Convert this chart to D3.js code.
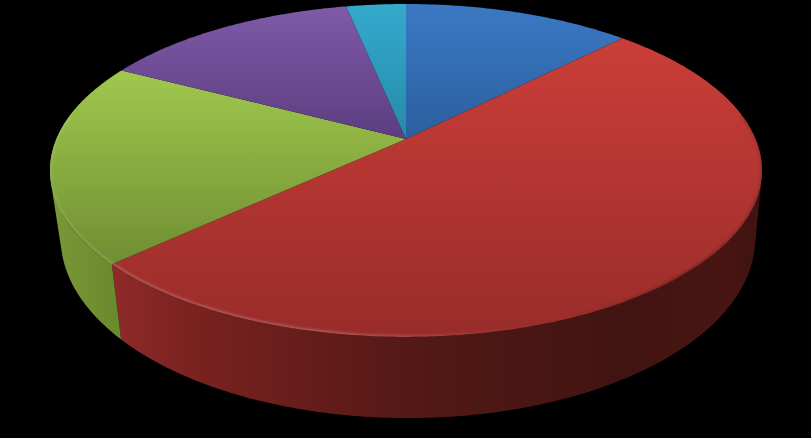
<!DOCTYPE html>
<html>
<head>
<meta charset="utf-8">
<script src="https://cdn.jsdelivr.net/npm/d3@7"></script>
<style>
  html, body { margin: 0; padding: 0; background: #000; overflow: hidden; }
  svg { display: block; }
</style>
</head>
<body>
<svg id="chart" width="811" height="438"></svg>
<script>
const WIDTH = 811, HEIGHT = 438;

// share of each slice, clockwise from twelve o'clock
const sliceValues = [12.4, 50.7, 19.6, 14.05, 3.25];

const topLight = ['#3b79c4', '#cb3e38', '#a0c84e', '#7f5aa8', '#34aacd'];
const topDark = ['#2b5f9f', '#982c2a', '#6f8e32', '#5c3d80', '#258aaa'];
const wallStops = [
    [[0, '#2b5f9f'], [1, '#2b5f9f']],
    [[0.09, '#8e2a2a'], [0.2, '#7a2220'], [0.5, '#541916'], [0.8, '#411411'], [0.95, '#481512'], [1, '#3d1310']],
    [[0, '#7a9a38'], [0.09, '#6a8a2e']],
    [[0, '#5c3d80'], [1, '#5c3d80']],
    [[0, '#258aaa'], [1, '#258aaa']]
];

// perspective of the disc: the rim of the top face and of the bottom face
const PERSPECTIVE = 0.189;
const topFace = { cx: 406, cy: 139, a: 349.6, b: 160.5 };
const bottomFace = { cx: 408, cy: 204, a: 341, b: 173.6 };
const WALL_STEP = 0.012;

function project(face, angle) {
    const u = Math.sin(angle), v = Math.cos(angle);
    const w = 1 + PERSPECTIVE * v;
    return [face.cx + face.a * u / w, face.cy - face.b * v / w];
}

function arcPoints(face, start, end) {
    const count = Math.max(2, Math.ceil((end - start) / 0.01));
    return d3.range(count + 1).map(i => project(face, start + (end - start) * i / count));
}

const svg = d3.select('#chart');
const defs = svg.append('defs');
const line = d3.line();

const slices = d3.pie().sort(null)(sliceValues);

defs.append('filter').attr('id', 'soft')
    .append('feGaussianBlur').attr('stdDeviation', 1.1);

defs.append('clipPath').attr('id', 'topClip')
    .append('path')
    .attr('d', line(arcPoints(topFace, 0, 2 * Math.PI)) + 'Z');

slices.forEach((s, i) => {
    const top = defs.append('linearGradient').attr('id', `top${i}`)
        .attr('x1', 0).attr('y1', 0).attr('x2', 0).attr('y2', 1);
    top.append('stop').attr('offset', 0).attr('stop-color', topLight[i]);
    top.append('stop').attr('offset', 1).attr('stop-color', topDark[i]);

    const wall = defs.append('linearGradient').attr('id', `wall${i}`)
        .attr('gradientUnits', 'userSpaceOnUse')
        .attr('x1', 50).attr('y1', 0).attr('x2', 762).attr('y2', 0);
    wallStops[i].forEach(([offset, color]) => {
        wall.append('stop').attr('offset', offset).attr('stop-color', color);
    });
});

const rimGradient = defs.append('linearGradient').attr('id', 'rim')
    .attr('gradientUnits', 'userSpaceOnUse')
    .attr('x1', 50).attr('y1', 0).attr('x2', 762).attr('y2', 0);
[[0, '#fff', 0.08], [0.1, '#fff', 0.2], [0.4, '#fff', 0.2], [0.68, '#fff', 0],
 [0.72, '#000', 0], [0.9, '#000', 0.25], [1, '#000', 0.12]].forEach(([offset, color, alpha]) => {
    rimGradient.append('stop').attr('offset', offset)
        .attr('stop-color', color).attr('stop-opacity', alpha);
});

// one quad of the wall, always wound the same way so that they fill as a union
function wallQuad(from, to) {
    const quad = [
        project(topFace, from), project(topFace, to),
        project(bottomFace, to), project(bottomFace, from)
    ];
    return d3.polygonArea(quad) < 0 ? quad.reverse() : quad;
}

// side walls first, swept in thin quads so the sides stay tangent to both rims
function wallPath(d) {
    const start = Math.max(d.startAngle, Math.PI * 0.4);
    const end = Math.min(d.endAngle, Math.PI * 1.6);
    if (end <= start) return null;
    const count = Math.ceil((end - start) / WALL_STEP);
    return d3.range(count)
        .map(k => line(wallQuad(
            start + (end - start) * k / count,
            start + (end - start) * (k + 1) / count
        )) + 'Z')
        .join('');
}

svg.append('g').selectAll('path')
    .data(slices)
    .join('path')
    .attr('fill', (d, i) => `url(#wall${i})`)
    .attr('d', wallPath);

// top face
svg.append('g').selectAll('path')
    .data(slices)
    .join('path')
    .attr('fill', (d, i) => `url(#top${i})`)
    .attr('d', d => line([[topFace.cx, topFace.cy]]
        .concat(arcPoints(topFace, d.startAngle, d.endAngle))) + 'Z');

// bevel along the front edge
svg.append('g').attr('clip-path', 'url(#topClip)')
    .append('path')
    .attr('fill', 'none')
    .attr('stroke', 'url(#rim)')
    .attr('stroke-width', 4)
    .attr('filter', 'url(#soft)')
    .attr('d', line(arcPoints(topFace, Math.PI * 0.45, Math.PI * 1.55)));
</script>
</body>
</html>
